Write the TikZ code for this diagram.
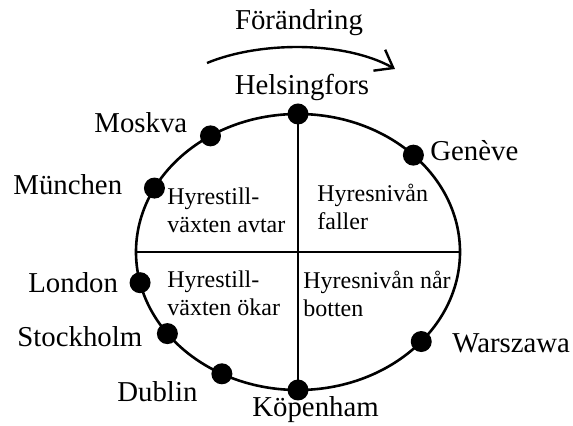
\documentclass[tikz,border=0pt]{standalone}
\usepackage{fontspec}
\setmainfont{Liberation Serif}
\usetikzlibrary{shapes.geometric,arrows.meta}
\begin{document}
\begin{tikzpicture}[x=0.5pt,y=-0.5pt,
  city/.style={font=\fontsize{14.4}{17}\selectfont, inner sep=0pt, anchor=base west},
  quad/.style={font=\fontsize{12}{14}\selectfont, inner sep=0pt, anchor=base west, align=left},
  dot/.style={circle, fill=black, minimum size=10.5pt, inner sep=0pt},
  ring/.style={ellipse, draw, line width=1.3pt, minimum width=162pt, minimum height=138pt, inner sep=0pt, outer sep=0pt},
  divider/.style={line width=0.9pt},
  flow/.style={line width=1.2pt, -{Straight Barb[length=8pt,width=12pt]}}]
\useasboundingbox (0,0) rectangle (573,426);
\node[ring] (ring) at (298,252) {};
\draw[divider] (ring.north) -- (ring.south);
\draw[divider] (ring.west) -- (ring.east);
% dots
\node[dot] (dH) at (ring.90) {};
\node[dot] (dM) at (ring.127) {};
\node[dot] (dMu) at (ring.156) {};
\node[dot] (dL) at (ring.191) {};
\node[dot] (dS) at (ring.212) {};
\node[dot] (dD) at (ring.238.5) {};
\node[dot] (dK) at (ring.270) {};
\node[dot] (dW) at (ring.324) {};
\node[dot] (dG) at (ring.40.5) {};
% city labels
\node[city, anchor=base] (tF) at (299,30) {Förändring};
\node[city, anchor=base] (tH) at (302,95) {Helsingfors};
\node[city] (tM) at (94,133) {Moskva};
\node[city] (tMu) at (13,195) {München};
\node[city] (tG) at (430,161) {Genève};
\node[city] (tL) at (28,293) {London};
\node[city] (tS) at (17,347) {Stockholm};
\node[city] (tD) at (117,402) {Dublin};
\node[city] (tK) at (252,417) {Köpenham};
\node[city] (tW) at (452,353) {Warszawa};
% quadrant texts (anchor at baseline of last line)
\node[quad] (q1) at (167,233) {Hyrestill-\\växten avtar};
\node[quad] (q2) at (317,230) {Hyresnivån\\faller};
\node[quad] (q3) at (167,316) {Hyrestill-\\växten ökar};
\node[quad] (q4) at (303,317) {Hyresnivån når\\botten};
% change arrow
\coordinate (aS) at (207,63);
\coordinate (aE) at (395,69);
\draw[flow] (aS) .. controls (260,41) and (345,41) .. (aE);
\end{tikzpicture}
\end{document}
